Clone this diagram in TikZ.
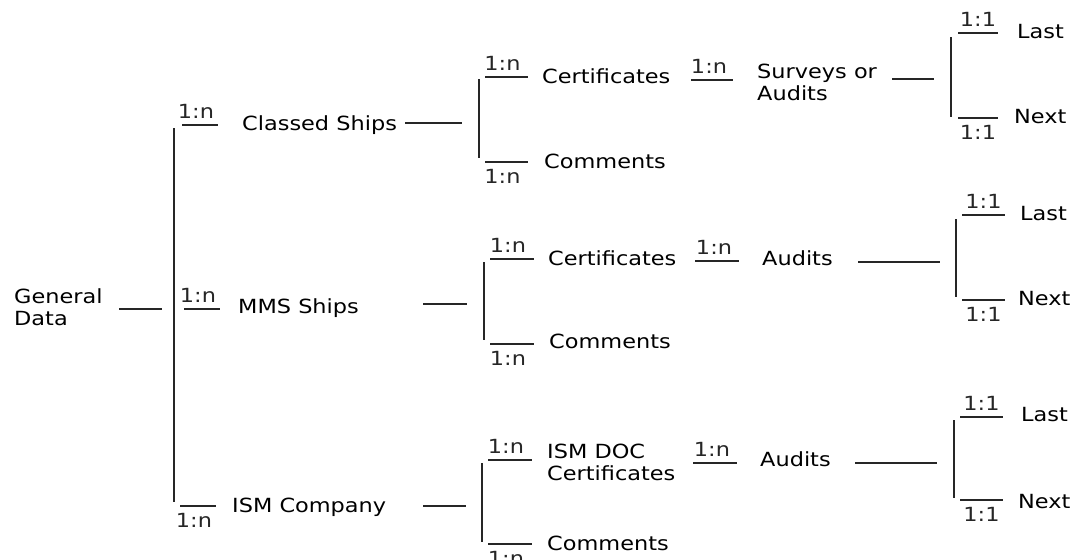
\documentclass[tikz,border=0pt]{standalone}
\usepackage{fontspec}
\setmainfont{DejaVu Sans}[FakeStretch=1.15]
\usepackage{tikz}

\begin{document}
\begin{tikzpicture}[x=1pt,y=-1pt,
  txt/.style={anchor=base west, inner sep=0pt, font=\fontsize{19.5}{22}\selectfont},
  blk/.style={anchor=west, inner sep=0pt, align=left, font=\fontsize{19.5}{22}\selectfont},
  rel/.style={inner sep=0pt, font=\fontsize{19.5}{22}\selectfont},
  ln/.style={line width=1.6pt, black!85},
  bar/.style={line width=2.2pt, black!85}]
\useasboundingbox (0,0) rectangle (1072,560);

% texts
\node[blk] (gen) at (14,307) {General\\Data};
\node[txt] (cls) at (242,130) {Classed Ships};
\node[txt] (mms) at (238,313) {MMS Ships};
\node[txt] (ism) at (232,512) {ISM Company};

\node[txt] (cert1) at (542,83) {Certificates};
\node[txt] (com1) at (544,168) {Comments};
\node[blk] (sur) at (757,82) {Surveys or\\Audits};
\node[txt] (last1) at (1017,38) {Last};
\node[txt] (next1) at (1014,123) {Next};

\node[txt] (cert2) at (548,265) {Certificates};
\node[txt] (com2) at (549,348) {Comments};
\node[txt] (aud2) at (762,265) {Audits};
\node[txt] (last2) at (1020,220) {Last};
\node[txt] (next2) at (1018,305) {Next};

\node[blk] (doc) at (547,462) {ISM DOC\\Certificates};
\node[txt] (com3) at (547,550) {Comments};
\node[txt] (aud3) at (760,466) {Audits};
\node[txt] (last3) at (1021,421) {Last};
\node[txt] (next3) at (1018,508) {Next};

% general data and main bracket
\coordinate (gd-a) at (119,309); \coordinate (gd-b) at (162,309);
\coordinate (mb-t) at (174,128); \coordinate (mb-b) at (174,502);
\draw[ln] (gd-a) -- (gd-b);
\draw[bar] (mb-t) -- (mb-b);

\coordinate (b1-a) at (182,125); \coordinate (b1-b) at (218,125);
\coordinate (b2-a) at (184,309); \coordinate (b2-b) at (220,309);
\coordinate (b3-a) at (180,506); \coordinate (b3-b) at (216,506);
\draw[ln] (b1-a) -- node[rel, above=6pt, xshift=-4pt]{1:n} (b1-b);
\draw[ln] (b2-a) -- node[rel, above=6pt, xshift=-4pt]{1:n} (b2-b);
\draw[ln] (b3-a) -- node[rel, below=6pt, xshift=-4pt]{1:n} (b3-b);

% classed ships
\coordinate (c1-a) at (405,123); \coordinate (c1-b) at (462,123);
\coordinate (s1-t) at (479,79); \coordinate (s1-b) at (479,158);
\coordinate (s1-ta) at (485,77); \coordinate (s1-tb) at (528,77);
\coordinate (s1-ba) at (485,162); \coordinate (s1-bb) at (528,162);
\coordinate (r1-a) at (691,80); \coordinate (r1-b) at (733,80);
\coordinate (e1-a) at (892,79); \coordinate (e1-b) at (934,79);
\coordinate (l1-t) at (951,37); \coordinate (l1-b) at (951,117);
\coordinate (l1-ta) at (958,33); \coordinate (l1-tb) at (998,33);
\coordinate (l1-ba) at (958,118); \coordinate (l1-bb) at (998,118);
\draw[ln] (c1-a) -- (c1-b);
\draw[bar] (s1-t) -- (s1-b);
\draw[ln] (s1-ta) -- node[rel, above=6pt, xshift=-4pt]{1:n} (s1-tb);
\draw[ln] (s1-ba) -- node[rel, below=6pt, xshift=-4pt]{1:n} (s1-bb);
\draw[ln] (r1-a) -- node[rel, above=6pt, xshift=-3pt]{1:n} (r1-b);
\draw[ln] (e1-a) -- (e1-b);
\draw[bar] (l1-t) -- (l1-b);
\draw[ln] (l1-ta) -- node[rel, above=6pt]{1:1} (l1-tb);
\draw[ln] (l1-ba) -- node[rel, below=6pt]{1:1} (l1-bb);

% mms ships
\coordinate (c2-a) at (423,304); \coordinate (c2-b) at (467,304);
\coordinate (s2-t) at (484,262); \coordinate (s2-b) at (484,340);
\coordinate (s2-ta) at (490,259); \coordinate (s2-tb) at (534,259);
\coordinate (s2-ba) at (490,344); \coordinate (s2-bb) at (534,344);
\coordinate (r2-a) at (695,261); \coordinate (r2-b) at (739,261);
\coordinate (e2-a) at (858,262); \coordinate (e2-b) at (940,262);
\coordinate (l2-t) at (956,219); \coordinate (l2-b) at (956,297);
\coordinate (l2-ta) at (962,215); \coordinate (l2-tb) at (1005,215);
\coordinate (l2-ba) at (962,300); \coordinate (l2-bb) at (1005,300);
\draw[ln] (c2-a) -- (c2-b);
\draw[bar] (s2-t) -- (s2-b);
\draw[ln] (s2-ta) -- node[rel, above=6pt, xshift=-4pt]{1:n} (s2-tb);
\draw[ln] (s2-ba) -- node[rel, below=6pt, xshift=-4pt]{1:n} (s2-bb);
\draw[ln] (r2-a) -- node[rel, above=6pt, xshift=-3pt]{1:n} (r2-b);
\draw[ln] (e2-a) -- (e2-b);
\draw[bar] (l2-t) -- (l2-b);
\draw[ln] (l2-ta) -- node[rel, above=6pt]{1:1} (l2-tb);
\draw[ln] (l2-ba) -- node[rel, below=6pt]{1:1} (l2-bb);

% ism company
\coordinate (c3-a) at (423,506); \coordinate (c3-b) at (466,506);
\coordinate (s3-t) at (482,463); \coordinate (s3-b) at (482,542);
\coordinate (s3-ta) at (488,460); \coordinate (s3-tb) at (532,460);
\coordinate (s3-ba) at (488,544); \coordinate (s3-bb) at (532,544);
\coordinate (r3-a) at (693,463); \coordinate (r3-b) at (737,463);
\coordinate (e3-a) at (855,463); \coordinate (e3-b) at (937,463);
\coordinate (l3-t) at (954,420); \coordinate (l3-b) at (954,498);
\coordinate (l3-ta) at (960,417); \coordinate (l3-tb) at (1003,417);
\coordinate (l3-ba) at (960,500); \coordinate (l3-bb) at (1003,500);
\draw[ln] (c3-a) -- (c3-b);
\draw[bar] (s3-t) -- (s3-b);
\draw[ln] (s3-ta) -- node[rel, above=6pt, xshift=-4pt]{1:n} (s3-tb);
\draw[ln] (s3-ba) -- node[rel, below=6pt, xshift=-4pt]{1:n} (s3-bb);
\draw[ln] (r3-a) -- node[rel, above=6pt, xshift=-3pt]{1:n} (r3-b);
\draw[ln] (e3-a) -- (e3-b);
\draw[bar] (l3-t) -- (l3-b);
\draw[ln] (l3-ta) -- node[rel, above=6pt]{1:1} (l3-tb);
\draw[ln] (l3-ba) -- node[rel, below=6pt]{1:1} (l3-bb);
\end{tikzpicture}
\end{document}
